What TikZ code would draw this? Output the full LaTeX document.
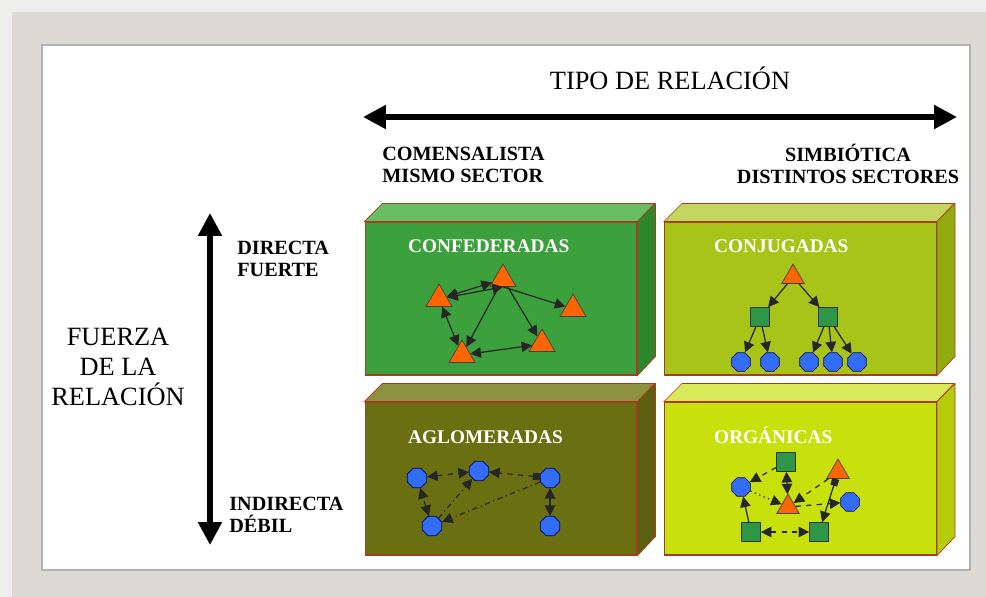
\documentclass[tikz,border=0pt]{standalone}
\usepackage{fontspec}
\setmainfont{Liberation Serif}
\usetikzlibrary{shapes.geometric,arrows.meta}
\definecolor{fondo}{RGB}{238,238,236}
\definecolor{marco}{RGB}{221,218,211}
\definecolor{borde}{RGB}{170,60,30}
\definecolor{naranja}{RGB}{255,102,0}
\definecolor{verdecuad}{RGB}{46,150,70}
\definecolor{azul}{RGB}{50,110,245}
\definecolor{conffrente}{RGB}{60,160,60}
\definecolor{confarriba}{RGB}{104,190,96}
\definecolor{conflado}{RGB}{44,135,44}
\definecolor{conjfrente}{RGB}{168,196,24}
\definecolor{conjarriba}{RGB}{196,214,96}
\definecolor{conjlado}{RGB}{146,172,16}
\definecolor{aglofrente}{RGB}{106,112,18}
\definecolor{agloarriba}{RGB}{140,144,64}
\definecolor{aglolado}{RGB}{90,96,16}
\definecolor{orgfrente}{RGB}{200,225,12}
\definecolor{orgarriba}{RGB}{216,234,90}
\definecolor{orglado}{RGB}{180,204,10}
\begin{document}
\begin{tikzpicture}[x=0.02cm, y=-0.02cm, >={Triangle[length=6pt,width=6pt]},
    caja/.style={draw=borde, line width=0.6pt, minimum width=5.44cm, minimum height=3.06cm, inner sep=0},
    titulo/.style={anchor=base west, text=white, font=\bfseries\fontsize{11}{13}\selectfont},
    etiqueta/.style={font=\bfseries\fontsize{11.5}{12.5}\selectfont, inner sep=0},
    grande/.style={font=\fontsize{15}{17}\selectfont, inner sep=0},
    tri/.style={regular polygon, regular polygon sides=3, draw=black!75, fill=naranja, minimum size=0.6cm, inner sep=0},
    cuad/.style={rectangle, draw=black!80, fill=verdecuad, minimum size=0.38cm, inner sep=0},
    bola/.style={regular polygon, regular polygon sides=8, draw=blue!40!black, fill=azul, minimum size=0.42cm, inner sep=0},
    red/.style={line width=0.7pt, draw=black!85},
    flechota/.style={line width=3pt, {Triangle[length=13pt,width=13pt]}-{Triangle[length=13pt,width=13pt]}}]
    \useasboundingbox (0,0) rectangle (986,597);
    % marco
    \fill[fondo] (0,0) rectangle (986,597);
    \fill[marco] (12,12) rectangle (986,597);
    \filldraw[fill=white, draw=gray!60, line width=0.8pt] (42,45) rectangle (970,570);

    % ejes
    \node[grande] (tipo) at (670,78) {TIPO DE RELACIÓN};
    \coordinate (izq) at (363,117);
    \coordinate (der) at (957,117);
    \draw[flechota] (izq) -- (der);
    \node[etiqueta, anchor=west, align=left] (comen) at (382,165) {COMENSALISTA\\MISMO SECTOR};
    \node[etiqueta, align=center] (simb) at (848,164) {SIMBIÓTICA\\DISTINTOS SECTORES};

    \node[grande, align=center] (fuerza) at (118,367) {FUERZA\\DE LA\\RELACIÓN};
    \coordinate (arriba) at (210,213);
    \coordinate (abajo) at (210,545);
    \draw[flechota] (arriba) -- (abajo);
    \node[etiqueta, anchor=west, align=left] (directa) at (237,259) {DIRECTA\\FUERTE};
    \node[etiqueta, anchor=west, align=left] (indirecta) at (229,515) {INDIRECTA\\DÉBIL};

    % cajas
    \node[caja, fill=conffrente] (confed) at (501,298.5) {};
    \filldraw[draw=borde, fill=confarriba] (confed.north west) -- ++(18,-18) -- ++(272,0) -- (confed.north east) -- cycle;
    \filldraw[draw=borde, fill=conflado] (confed.north east) -- ++(18,-18) -- ++(0,153) -- (confed.south east) -- cycle;
    \node[titulo] (tconfed) at (402,253) {CONFEDERADAS};

    \node[caja, fill=conjfrente] (conjug) at (800.5,298.5) {};
    \filldraw[draw=borde, fill=conjarriba] (conjug.north west) -- ++(18,-18) -- ++(272,0) -- (conjug.north east) -- cycle;
    \filldraw[draw=borde, fill=conjlado] (conjug.north east) -- ++(18,-18) -- ++(0,153) -- (conjug.south east) -- cycle;
    \node[titulo] (tconjug) at (708,253) {CONJUGADAS};

    \node[caja, fill=aglofrente] (aglom) at (501,478.5) {};
    \filldraw[draw=borde, fill=agloarriba] (aglom.north west) -- ++(18,-18) -- ++(272,0) -- (aglom.north east) -- cycle;
    \filldraw[draw=borde, fill=aglolado] (aglom.north east) -- ++(18,-18) -- ++(0,153) -- (aglom.south east) -- cycle;
    \node[titulo] (taglom) at (402,443) {AGLOMERADAS};

    \node[caja, fill=orgfrente] (organ) at (800.5,478.5) {};
    \filldraw[draw=borde, fill=orgarriba] (organ.north west) -- ++(18,-18) -- ++(272,0) -- (organ.north east) -- cycle;
    \filldraw[draw=borde, fill=orglado] (organ.north east) -- ++(18,-18) -- ++(0,153) -- (organ.south east) -- cycle;
    \node[titulo] (torgan) at (708,443) {ORGÁNICAS};

    % confederadas
    \node[tri] (cf1) at (503,279) {};
    \node[tri] (cf2) at (439,299) {};
    \node[tri] (cf3) at (573,309) {};
    \node[tri] (cf4) at (542,344) {};
    \node[tri] (cf5) at (462,355) {};
    \draw[red, <->] (cf2) -- (cf1);
    \draw[red, <->] (cf2) -- (cf1.south);
    \draw[red, ->] (cf1.south) -- (cf3);
    \draw[red, ->] (cf1) -- (cf5);
    \draw[red, ->] (cf1) -- (cf4);
    \draw[red, <->] (cf2) -- (cf5);
    \draw[red, <->] (cf5) -- (cf4);

    % conjugadas
    \node[tri, minimum size=0.52cm] (cj0) at (793,277) {};
    \node[cuad] (cj1) at (760,317) {};
    \node[cuad] (cj2) at (828,317) {};
    \node[bola, minimum size=0.4cm] (cj3) at (741,362) {};
    \node[bola, minimum size=0.4cm] (cj4) at (770,362) {};
    \node[bola, minimum size=0.4cm] (cj5) at (809,362) {};
    \node[bola, minimum size=0.4cm] (cj6) at (833,362) {};
    \node[bola, minimum size=0.4cm] (cj7) at (857,362) {};
    \draw[red, ->] (cj0) -- (cj1);
    \draw[red, ->] (cj0) -- (cj2);
    \draw[red, ->] (cj1) -- (cj3);
    \draw[red, ->] (cj1) -- (cj4);
    \draw[red, ->] (cj2) -- (cj5);
    \draw[red, ->] (cj2) -- (cj6);
    \draw[red, ->] (cj2) -- (cj7);

    % aglomeradas
    \node[bola] (ag1) at (417,478) {};
    \node[bola] (ag2) at (479,471) {};
    \node[bola] (ag3) at (550,478) {};
    \node[bola] (ag4) at (432,526) {};
    \node[bola] (ag5) at (550,526) {};
    \draw[red, dashed, <->] (ag1) -- (ag2);
    \draw[red, dashed, {Square[length=4pt,width=4pt]}->] (ag3) -- (ag2);
    \draw[red, dashed, <->] (ag4) -- (ag1);
    \draw[red, dash dot, ->] (ag4) -- (ag2);
    \draw[red, dash dot, ->] (ag3) -- (ag4);
    \draw[red, <->] (ag3) -- (ag5);

    % organicas
    \node[cuad] (og1) at (786,462) {};
    \node[tri, minimum size=0.52cm] (og2) at (838,472) {};
    \node[bola, minimum size=0.4cm] (og3) at (741,487) {};
    \node[tri, minimum size=0.52cm] (og4) at (788,507) {};
    \node[bola, minimum size=0.4cm] (og5) at (850,502) {};
    \node[cuad] (og6) at (751,532) {};
    \node[cuad] (og7) at (819,532) {};
    \draw[red, dashed, ->] (og1) -- (og3);
    \draw[red, <->] (og1) -- (og4);
    \draw[red, ->] (og6) -- (og3);
    \draw[red, dashed, <->] (og6) -- (og7);
    \draw[red, {Square[length=4pt,width=4pt]}->] (og2) -- (og7);
    \draw[red, dashed, ->] (og2) -- (og4);
    \draw[red, dashed, ->] (og4) -- (og5);
    \draw[red, dotted, ->] (og3) -- (og4);
\end{tikzpicture}
\end{document}
